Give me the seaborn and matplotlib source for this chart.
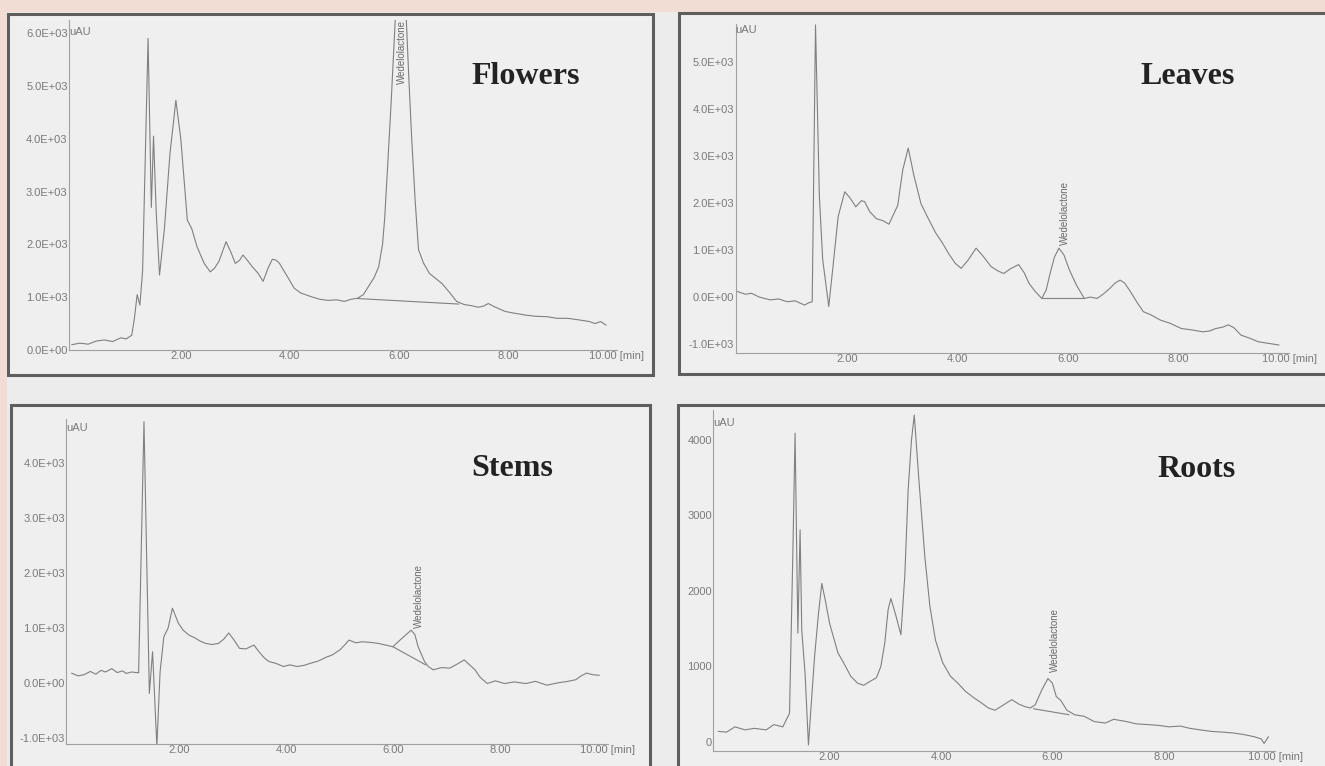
import matplotlib
matplotlib.use("Agg")
import matplotlib.pyplot as plt
from matplotlib.patches import Rectangle
import seaborn as sns
import numpy as np
import pandas as pd

# retention time (min) and detector response (uAU)
fl_time = [0.00, 0.15, 0.30, 0.45, 0.60, 0.75, 0.90, 1.00, 1.10, 1.15, 1.20, 1.25, 1.30, 1.40, 1.46, 1.50,
           1.55, 1.61, 1.70, 1.80, 1.91, 2.00, 2.12, 2.20, 2.30, 2.43, 2.54, 2.62, 2.70, 2.83, 2.92, 3.00,
           3.08, 3.14, 3.22, 3.31, 3.42, 3.51, 3.60, 3.68, 3.75, 3.81, 3.95, 4.08, 4.20, 4.39, 4.55, 4.70,
           4.86, 5.00, 5.12, 5.24, 5.35, 5.44, 5.55, 5.63, 5.70, 5.74, 5.80, 5.86, 5.94, 6.13, 6.18, 6.23,
           6.30, 6.36, 6.45, 6.56, 6.68, 6.79, 6.92, 7.06, 7.20, 7.33, 7.45, 7.55, 7.64, 7.75, 7.95, 8.10,
           8.33, 8.50, 8.72, 8.90, 9.10, 9.30, 9.49, 9.60, 9.70, 9.80]
fl_signal = [100, 130, 110, 170, 190, 160, 230, 210, 280, 600, 1050, 850, 1500, 5900, 2700, 4050,
             2600, 1420, 2300, 3700, 4730, 4000, 2460, 2300, 1950, 1640, 1480, 1550, 1680, 2050, 1850, 1640,
             1700, 1800, 1700, 1580, 1450, 1300, 1550, 1720, 1700, 1640, 1400, 1170, 1080, 1010, 960, 940,
             950, 920, 960, 980, 1050, 1200, 1380, 1580, 2000, 2500, 3600, 4730, 6400, 6400, 5200, 4100,
             2800, 1900, 1650, 1450, 1350, 1260, 1100, 920, 860, 840, 810, 830, 880, 820, 730, 700,
             660, 640, 630, 600, 600, 570, 540, 500, 540, 470]

lv_time = [0.00, 0.15, 0.26, 0.40, 0.60, 0.75, 0.91, 1.05, 1.22, 1.30, 1.36, 1.42, 1.49, 1.55, 1.66, 1.75,
           1.83, 1.95, 2.05, 2.15, 2.25, 2.31, 2.40, 2.52, 2.65, 2.75, 2.85, 2.91, 3.00, 3.10, 3.20, 3.33,
           3.45, 3.60, 3.72, 3.83, 3.95, 4.06, 4.18, 4.33, 4.45, 4.60, 4.72, 4.83, 4.95, 5.10, 5.20, 5.29,
           5.40, 5.52, 5.60, 5.67, 5.75, 5.83, 5.92, 6.02, 6.15, 6.29, 6.40, 6.52, 6.62, 6.75, 6.85, 6.94,
           7.02, 7.13, 7.25, 7.36, 7.50, 7.67, 7.85, 8.05, 8.25, 8.44, 8.57, 8.67, 8.80, 8.90, 9.00, 9.13,
           9.30, 9.44, 9.60, 9.82]
lv_signal = [120, 60, 80, 0, -60, -40, -100, -80, -170, -120, -100, 5790, 2130, 800, -200, 800,
             1710, 2240, 2100, 1920, 2050, 2030, 1820, 1670, 1620, 1550, 1800, 1950, 2700, 3170, 2600, 1990,
             1700, 1360, 1150, 930, 720, 610, 780, 1040, 880, 650, 560, 500, 600, 690, 520, 290,
             120, -30, 150, 500, 850, 1040, 900, 580, 250, -30, 0, -30, 50, 180, 300, 360,
             300, 110, -120, -310, -380, -490, -560, -670, -700, -740, -720, -670, -640, -590, -650, -810,
             -880, -950, -980, -1020]

st_time = [0.00, 0.12, 0.23, 0.35, 0.45, 0.55, 0.63, 0.75, 0.85, 0.95, 1.02, 1.12, 1.25, 1.35, 1.45, 1.51,
           1.59, 1.65, 1.72, 1.80, 1.88, 1.99, 2.08, 2.19, 2.30, 2.40, 2.50, 2.62, 2.74, 2.84, 2.93, 3.03,
           3.13, 3.25, 3.40, 3.50, 3.60, 3.68, 3.80, 3.95, 4.07, 4.20, 4.33, 4.46, 4.60, 4.75, 4.86, 5.00,
           5.10, 5.17, 5.30, 5.41, 5.55, 5.72, 5.85, 5.99, 6.10, 6.19, 6.33, 6.40, 6.46, 6.58, 6.65, 6.74,
           6.90, 7.05, 7.20, 7.32, 7.42, 7.52, 7.62, 7.75, 7.90, 8.07, 8.25, 8.47, 8.65, 8.86, 9.05, 9.25,
           9.40, 9.50, 9.60, 9.72, 9.84]
st_signal = [180, 130, 150, 210, 160, 230, 200, 260, 190, 220, 175, 200, 185, 4750, -190, 570,
             -1150, 200, 840, 1000, 1360, 1090, 960, 870, 820, 760, 720, 700, 720, 800, 910, 780,
             630, 620, 690, 560, 450, 390, 360, 300, 330, 300, 320, 360, 400, 470, 510, 600,
             700, 780, 730, 750, 740, 720, 690, 660, 760, 840, 960, 880, 660, 390, 300, 240,
             280, 270, 350, 420, 330, 240, 100, -10, 40, -10, 20, -10, 30, -40, 0, 30,
             60, 130, 180, 150, 140]

rt_time = [0.00, 0.15, 0.30, 0.48, 0.65, 0.86, 1.00, 1.16, 1.28, 1.34, 1.38, 1.43, 1.47, 1.50, 1.56, 1.62,
           1.67, 1.73, 1.80, 1.86, 1.93, 2.00, 2.15, 2.25, 2.38, 2.50, 2.61, 2.72, 2.84, 2.92, 2.99, 3.05,
           3.10, 3.18, 3.28, 3.35, 3.41, 3.47, 3.52, 3.60, 3.71, 3.80, 3.90, 4.03, 4.17, 4.30, 4.44, 4.60,
           4.74, 4.85, 4.97, 5.10, 5.27, 5.40, 5.50, 5.60, 5.69, 5.81, 5.92, 6.00, 6.07, 6.15, 6.26, 6.40,
           6.57, 6.75, 6.95, 7.10, 7.33, 7.50, 7.71, 7.90, 8.09, 8.30, 8.47, 8.65, 8.85, 9.05, 9.23, 9.42,
           9.62, 9.75, 9.80, 9.88]
rt_signal = [140, 130, 200, 160, 180, 160, 230, 200, 380, 2500, 4090, 1440, 2810, 1480, 900, -40,
             500, 1130, 1700, 2100, 1850, 1570, 1180, 1050, 870, 780, 750, 800, 850, 1000, 1310, 1750,
             1900, 1700, 1420, 2200, 3340, 4000, 4330, 3500, 2450, 1800, 1350, 1050, 870, 780, 670, 580,
             510, 450, 420, 480, 560, 500, 470, 450, 490, 690, 840, 780, 600, 550, 420, 360,
             340, 270, 250, 300, 270, 240, 230, 220, 200, 210, 180, 160, 140, 130, 120, 100,
             70, 40, -20, 70]

# integration baselines drawn under the wedelolactone peak
fl_base_time, fl_base_signal = [5.24, 7.10], [975, 870]
lv_base_time, lv_base_signal = [5.52, 6.29], [-30, -30]
st_base_time, st_base_signal = [5.99, 6.60], [660, 330]
rt_base_time, rt_base_signal = [5.66, 6.30], [440, 360]

x_ticks = [2, 4, 6, 8, 10]
x_tick_labels = ['2.00', '4.00', '6.00', '8.00', '10.00 [min]']
fl_yticks = [0, 1000, 2000, 3000, 4000, 5000, 6000]
fl_ytick_labels = ['0.0E+00', '1.0E+03', '2.0E+03', '3.0E+03', '4.0E+03', '5.0E+03', '6.0E+03']
lv_yticks = [-1000, 0, 1000, 2000, 3000, 4000, 5000]
lv_ytick_labels = ['-1.0E+03', '0.0E+00', '1.0E+03', '2.0E+03', '3.0E+03', '4.0E+03', '5.0E+03']
st_yticks = [-1000, 0, 1000, 2000, 3000, 4000]
st_ytick_labels = ['-1.0E+03', '0.0E+00', '1.0E+03', '2.0E+03', '3.0E+03', '4.0E+03']
rt_yticks = [0, 1000, 2000, 3000, 4000]
rt_ytick_labels = ['0', '1000', '2000', '3000', '4000']

sns.set_theme(style='white')
plt.rcParams['font.family'] = ['Liberation Sans', 'DejaVu Sans']

W, H = 1325, 766
fig = plt.figure(figsize=(W / 100, H / 100), dpi=100, facecolor='#f2ddd4')


def px_rect(x0, y0, x1, y1, **kw):
    # rectangle given in image pixels (y measured from top), kept behind the axes
    fig.add_artist(Rectangle((x0 / W, 1 - y1 / H), (x1 - x0) / W, (y1 - y0) / H,
                             transform=fig.transFigure, zorder=-10, **kw))


def px_text(x, y, s, **kw):
    fig.text(x / W, 1 - y / H, s, **kw)


# grey page behind the panels, then the four framed panels
px_rect(7, 12, W + 5, H + 5, facecolor='#ececec', edgecolor='none')
px_rect(8, 14, 653, 375, facecolor='#efefef', edgecolor='#5e5e5e', lw=2.2)
px_rect(679, 13, W + 10, 374, facecolor='#efefef', edgecolor='#5e5e5e', lw=2.2)
px_rect(11, 405, 650, H + 10, facecolor='#efefef', edgecolor='#5e5e5e', lw=2.2)
px_rect(678, 405, W + 10, H + 10, facecolor='#efefef', edgecolor='#5e5e5e', lw=2.2)

line_col = '#808080'
panels = [
    # name, time, signal, baseline, yticks, labels, axes box px (l, r, b, t), xlim, ylim, peak label, title px, uAU px
    ('Flowers', fl_time, fl_signal, (fl_base_time, fl_base_signal), fl_yticks, fl_ytick_labels,
     (69, 617, 350, 20), (-0.05, 10), (0, 6250), (6.05, 6250, 'top'), (526, 77), (69, 32)),
    ('Leaves', lv_time, lv_signal, (lv_base_time, lv_base_signal), lv_yticks, lv_ytick_labels,
     (735.5, 1289, 353, 24.4), (-0.03, 10), (-1190, 5800), (5.94, 1100, 'bottom'), (1188, 77), (735, 30)),
    ('Stems', st_time, st_signal, (st_base_time, st_base_signal), st_yticks, st_ytick_labels,
     (66.2, 608, 743.5, 419), (-0.1, 10), (-1100, 4800), (6.47, 1000, 'bottom'), (512, 469), (66, 428)),
    ('Roots', rt_time, rt_signal, (rt_base_time, rt_base_signal), rt_yticks, rt_ytick_labels,
     (713.2, 1275.2, 751, 409.8), (-0.09, 10), (-120, 4400), (6.04, 930, 'bottom'), (1197, 470), (713, 423)),
]

for (name, t, s, base, yt, ytl, box, xl, yl, lab, title_xy, uau_xy) in panels:
    l, r, b, top = box
    ax = fig.add_axes([l / W, 1 - b / H, (r - l) / W, (b - top) / H])
    ax.set_facecolor('none')
    df = pd.DataFrame({'time': t, 'signal': s})
    sns.lineplot(data=df, x='time', y='signal', ax=ax, color=line_col, lw=0.8, estimator=None)
    sns.lineplot(x=base[0], y=base[1], ax=ax, color=line_col, lw=0.8, estimator=None)
    ax.set_xlim(*xl)
    ax.set_ylim(*yl)
    ax.set_xticks(x_ticks)
    ax.set_xticklabels(x_tick_labels)
    ax.set_yticks(yt)
    ax.set_yticklabels(ytl)
    ax.set_xlabel('')
    ax.set_ylabel('')
    ax.tick_params(length=0, pad=1, labelsize=8, colors='#7a7a7a')
    for side in ['top', 'right']:
        ax.spines[side].set_visible(False)
    for side in ['left', 'bottom']:
        ax.spines[side].set_color('#a0a0a0')
        ax.spines[side].set_linewidth(0.8)
    ax.text(lab[0], lab[1], 'Wedelolactone', rotation=90, ha='center', va=lab[2],
            fontsize=7, color='#6a6a6a')
    px_text(title_xy[0], title_xy[1], name, ha='center', va='center', fontsize=23,
            fontweight='bold', family=['Liberation Serif', 'DejaVu Serif'], color='#222222')
    px_text(uau_xy[0], uau_xy[1], 'uAU', ha='left', va='center', fontsize=8, color='#7a7a7a')

fig.savefig('out.png', dpi=100, facecolor=fig.get_facecolor())
